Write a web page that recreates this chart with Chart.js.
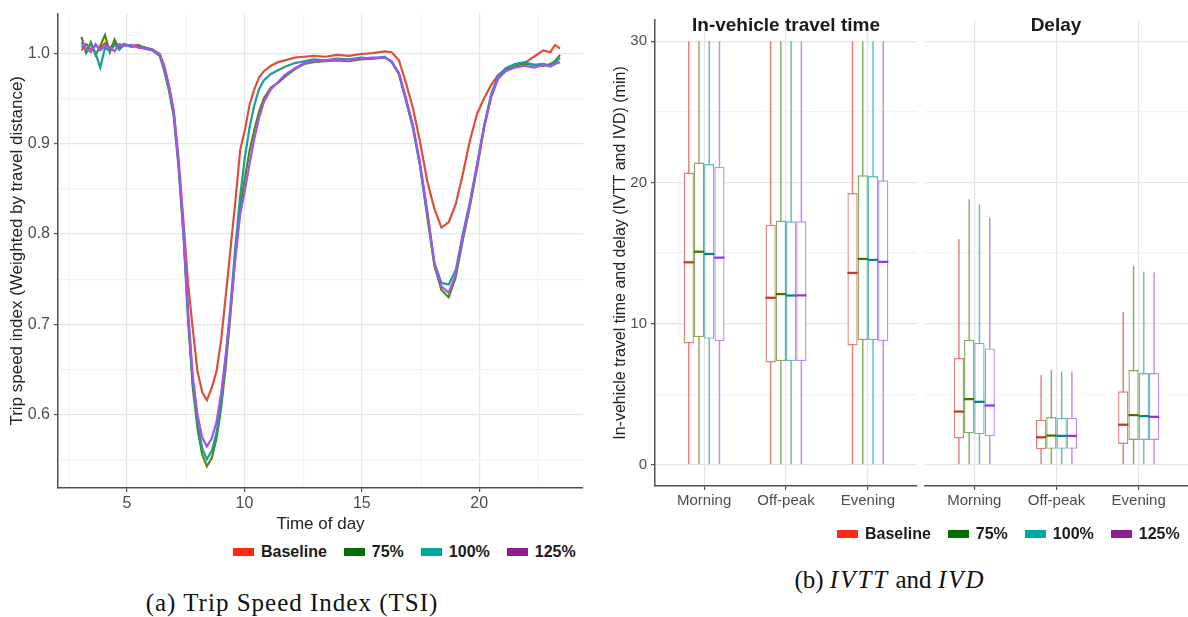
<!DOCTYPE html>
<html>
<head>
<meta charset="utf-8">
<script src="https://cdn.jsdelivr.net/npm/chart.js@4.4.1/dist/chart.umd.min.js"></script>
<style>
  body { margin: 0; background: #fff; }
  #page { position: relative; width: 1188px; height: 617px; overflow: hidden; background: #fff; }
  canvas { position: absolute; top: 0; }
  .legend { position: absolute; display: flex; align-items: center; font: bold 16px 'Liberation Sans', Arial, sans-serif; color: #1a1a1a; line-height: 20px; }
  .legend .item { display: flex; align-items: center; margin-right: 17px; }
  .legend .sw { width: 21px; height: 8px; margin-right: 7px; }
  .strip { position: absolute; transform: translateX(-50%); font: bold 19px 'Liberation Sans', Arial, sans-serif; color: #1a1a1a; line-height: 22px; white-space: nowrap; }
  .caption { position: absolute; transform: translateX(-50%); font: 25px 'Liberation Serif', 'Times New Roman', serif; color: #111; line-height: 28px; white-space: nowrap; }
  .caption i { letter-spacing: 2px; }
</style>
</head>
<body>
<div id="page">
  <canvas id="tsi" width="600" height="540" style="left:0"></canvas>
  <canvas id="ivtt" width="318" height="540" style="left:600px"></canvas>
  <canvas id="delay" width="270" height="540" style="left:918px"></canvas>

  <div class="strip" style="left:786px; top:14px">In-vehicle travel time</div>
  <div class="strip" style="left:1056px; top:14px">Delay</div>

  <div class="legend" id="legendA" style="left:233px; top:542px"></div>
  <div class="legend" id="legendB" style="left:837px; top:524px"></div>

  <div class="caption" style="left:292px; top:589px; letter-spacing:1px">(a) Trip Speed Index (TSI)</div>
  <div class="caption" style="left:890px; top:566px">(b) <i>IVTT</i> and <i>IVD</i></div>
</div>
<script>
// ---- data: trip speed index over the day
const tsiTimes = [3.06, 3.26, 3.46, 3.66, 3.86, 4.06, 4.27, 4.47, 4.67, 4.87,
  5.17, 5.48, 5.78, 6.08,
  6.39, 6.59, 6.79, 6.99, 7.19, 7.40, 7.60, 7.80, 8.00, 8.20, 8.40, 8.61, 8.81, 9.01, 9.21, 9.41, 9.61, 9.82, 10.02, 10.22, 10.42, 10.62, 10.83,
  11.13, 11.43, 11.73,
  12.14, 12.54, 12.94,
  13.45, 13.95, 14.46, 14.96, 15.47, 15.97,
  16.27, 16.58, 16.88, 17.18, 17.48, 17.79, 18.09, 18.39, 18.70, 19.00, 19.30, 19.60, 19.91, 20.21, 20.51, 20.81, 21.12,
  21.52, 21.92, 22.33, 22.73,
  23.03, 23.23, 23.44];

const tsiBaseline = [1.003, 1.010, 1.004, 1.008, 1.006, 1.011, 1.005, 1.012, 1.007, 1.010,
  1.008, 1.009, 1.006, 1.004,
  0.999, 0.986, 0.963, 0.936, 0.885, 0.815, 0.745, 0.695, 0.648, 0.625, 0.616, 0.630, 0.648, 0.683, 0.733, 0.784, 0.835, 0.893, 0.915, 0.943, 0.960, 0.973, 0.980,
  0.986, 0.990, 0.992,
  0.995, 0.996, 0.997,
  0.996, 0.998, 0.997, 0.999, 1.000, 1.002,
  1.001, 0.992, 0.967, 0.939, 0.902, 0.858, 0.828, 0.807, 0.813, 0.833, 0.866, 0.903, 0.933, 0.950, 0.965, 0.976, 0.981,
  0.985, 0.989, 0.996, 1.003,
  1.001, 1.009, 1.005];

const tsi75 = [1.018, 1.000, 1.012, 0.998, 1.008, 1.020, 1.001, 1.015, 1.004, 1.010,
  1.007, 1.008, 1.005, 1.003,
  0.997, 0.980, 0.958, 0.930, 0.875, 0.800, 0.705, 0.630, 0.585, 0.556, 0.543, 0.552, 0.574, 0.608, 0.655, 0.712, 0.775, 0.830, 0.862, 0.892, 0.915, 0.935, 0.950,
  0.962, 0.967, 0.974,
  0.982, 0.988, 0.990,
  0.991, 0.992, 0.991, 0.993, 0.994, 0.995,
  0.991, 0.977, 0.948, 0.917, 0.875, 0.818, 0.765, 0.738, 0.730, 0.752, 0.793, 0.830, 0.873, 0.918, 0.952, 0.972, 0.980,
  0.986, 0.988, 0.987, 0.986,
  0.988, 0.991, 0.998];

const tsi100 = [1.008, 1.004, 1.010, 1.000, 0.984, 1.006, 1.002, 1.009, 1.004, 1.009,
  1.008, 1.007, 1.006, 1.004,
  0.998, 0.982, 0.960, 0.932, 0.878, 0.803, 0.710, 0.636, 0.592, 0.563, 0.551, 0.560, 0.580, 0.615, 0.664, 0.722, 0.785, 0.842, 0.885, 0.918, 0.942, 0.960, 0.970,
  0.977, 0.981, 0.985,
  0.989, 0.991, 0.993,
  0.992, 0.994, 0.993, 0.995, 0.994, 0.996,
  0.990, 0.977, 0.948, 0.918, 0.876, 0.823, 0.768, 0.746, 0.744, 0.760, 0.800, 0.835, 0.878, 0.920, 0.955, 0.975, 0.983,
  0.988, 0.990, 0.987, 0.988,
  0.986, 0.989, 0.995];

const tsi125 = [1.012, 1.005, 1.001, 1.010, 1.003, 1.008, 1.006, 1.002, 1.010, 1.008,
  1.009, 1.006, 1.005, 1.003,
  0.999, 0.984, 0.963, 0.936, 0.880, 0.806, 0.715, 0.643, 0.600, 0.575, 0.565, 0.574, 0.592, 0.624, 0.668, 0.718, 0.772, 0.822, 0.848, 0.878, 0.905, 0.928, 0.946,
  0.960, 0.968, 0.976,
  0.983, 0.989, 0.991,
  0.992, 0.993, 0.992, 0.994, 0.995, 0.995,
  0.991, 0.978, 0.950, 0.920, 0.878, 0.825, 0.768, 0.742, 0.735, 0.755, 0.797, 0.832, 0.876, 0.918, 0.952, 0.973, 0.980,
  0.984, 0.986, 0.984, 0.987,
  0.985, 0.988, 0.990];

const tsiXTicks = [2.5, 5, 7.5, 10, 12.5, 15, 17.5, 20, 22.5];
const tsiYTicks = [0.55, 0.6, 0.65, 0.7, 0.75, 0.8, 0.85, 0.9, 0.95, 1.0];

// ---- data: box plots, rows = scenario, columns = period
const scenarios = ['Baseline', '75%', '100%', '125%'];
const periods = ['Morning', 'Off-peak', 'Evening'];
const periodTicks = [0, 1, 2];
const boxYTicks = [0, 5, 10, 15, 20, 25, 30];

const ivttMin = [[0, 0, 0], [0, 0, 0], [0, 0, 0], [0, 0, 0]];
const ivttQ1 = [[8.59, 7.25, 8.45], [9.04, 7.35, 8.83], [8.92, 7.35, 8.83], [8.76, 7.35, 8.76]];
const ivttMedian = [[14.34, 11.83, 13.59], [15.09, 12.09, 14.58], [14.93, 11.99, 14.51], [14.67, 12.0, 14.37]];
const ivttQ3 = [[20.7, 17.0, 19.25], [21.4, 17.3, 20.5], [21.3, 17.25, 20.45], [21.1, 17.25, 20.15]];
const ivttMax = [[30, 30, 30], [30, 30, 30], [30, 30, 30], [30, 30, 30]];

const delayMin = [[0, 0, 0], [0, 0, 0], [0, 0, 0], [0, 0, 0]];
const delayQ1 = [[1.87, 1.1, 1.48], [2.23, 1.13, 1.76], [2.16, 1.13, 1.76], [2.02, 1.13, 1.76]];
const delayMedian = [[3.77, 1.95, 2.84], [4.65, 2.07, 3.52], [4.46, 2.05, 3.45], [4.2, 2.05, 3.4]];
const delayQ3 = [[7.56, 3.19, 5.21], [8.85, 3.38, 6.71], [8.64, 3.33, 6.5], [8.24, 3.33, 6.5]];
const delayMax = [[16.0, 6.36, 10.8], [18.8, 6.71, 14.1], [18.43, 6.6, 13.69], [17.49, 6.6, 13.62]];

// ---- styles
const lineColors = ['#d9503f', '#4a8b14', '#1c9d99', '#a552ee'];
const legendColors = ['#ff2a12', '#007000', '#00a99e', '#901e90'];
const boxColors = ['#e07f75', '#86ad5e', '#62bcbc', '#c08af2'];
const medianColors = ['#c33a2c', '#437500', '#00868a', '#9236dc'];
const gridMajor = '#e6e6e6';
const gridMinor = '#f3f3f3';
const axisColor = '#505050';
const tickText = '#4d4d4d';

Chart.defaults.font.family = "'Liberation Sans', Arial, sans-serif";
Chart.defaults.color = tickText;

function onStep(v, step) {
  return Math.abs(v / step - Math.round(v / step)) < 1e-6;
}

// legends
function buildLegend(id) {
  const el = document.getElementById(id);
  scenarios.forEach((name, j) => {
    const item = document.createElement('div');
    item.className = 'item';
    item.innerHTML = '<span class="sw" style="background:' + legendColors[j] + '"></span>' + name;
    el.appendChild(item);
  });
}
buildLegend('legendA');
buildLegend('legendB');

// (a) trip speed index
const tsiSeries = [tsiBaseline, tsi75, tsi100, tsi125];
new Chart(document.getElementById('tsi'), {
  type: 'line',
  data: {
    datasets: tsiSeries.map((vals, j) => ({
      label: scenarios[j],
      data: tsiTimes.map((t, i) => ({ x: t, y: vals[i] })),
      borderColor: lineColors[j],
      borderWidth: 2.2,
      pointRadius: 0,
      tension: 0,
      order: 3 - j
    }))
  },
  options: {
    responsive: false,
    animation: false,
    layout: { padding: { top: 4, right: 17 } },
    plugins: { legend: { display: false }, tooltip: { enabled: false } },
    scales: {
      x: {
        type: 'linear', min: 2.06, max: 24.42,
        afterBuildTicks: s => { s.ticks = tsiXTicks.map(v => ({ value: v })); },
        afterFit: s => { s.height = 52; },
        ticks: { callback: v => onStep(v, 5) ? v : '', font: { size: 16 }, padding: 2, maxRotation: 0, autoSkip: false },
        grid: {
          color: c => onStep(c.tick.value, 5) ? gridMajor : gridMinor,
          tickColor: c => onStep(c.tick.value, 5) ? axisColor : 'rgba(0,0,0,0)',
          tickLength: 4, lineWidth: 1.2
        },
        border: { color: axisColor, width: 1.5 },
        title: { display: true, text: 'Time of day', font: { size: 17 }, color: '#222', padding: { top: 0, bottom: 5 } }
      },
      y: {
        min: 0.519, max: 1.0437,
        afterBuildTicks: s => { s.ticks = tsiYTicks.map(v => ({ value: v })); },
        afterFit: s => { s.width = 58; },
        ticks: { callback: v => onStep(v, 0.1) ? v.toFixed(1) : '', font: { size: 16 }, padding: 4, autoSkip: false },
        grid: {
          color: c => onStep(c.tick.value, 0.1) ? gridMajor : gridMinor,
          tickColor: c => onStep(c.tick.value, 0.1) ? axisColor : 'rgba(0,0,0,0)',
          tickLength: 4, lineWidth: 1.2
        },
        border: { color: axisColor, width: 1.5 },
        title: { display: true, text: 'Trip speed index (Weighted by travel distance)', font: { size: 17 }, color: '#222', padding: { top: 7 } }
      }
    }
  }
});

// (b) box plots, one chart per facet
function boxDatasets(lo, q1, med, q3, hi) {
  const sets = [];
  scenarios.forEach((name, j) => sets.push({
    label: name, stack: name, order: 0,
    data: periodTicks.map(i => ({ x: i, y: [med[j][i] - 0.08, med[j][i] + 0.08] })),
    backgroundColor: medianColors[j],
    barPercentage: 1, categoryPercentage: 0.5
  }));
  scenarios.forEach((name, j) => sets.push({
    label: name, stack: name, order: 1,
    data: periodTicks.map(i => ({ x: i, y: [q1[j][i], q3[j][i]] })),
    backgroundColor: '#ffffff', borderColor: boxColors[j], borderWidth: 1.4, borderSkipped: false,
    barPercentage: 1, categoryPercentage: 0.5
  }));
  scenarios.forEach((name, j) => sets.push({
    label: name, stack: name, order: 2,
    data: periodTicks.map(i => ({ x: i, y: [lo[j][i], hi[j][i]] })),
    backgroundColor: boxColors[j],
    barPercentage: 0.14, categoryPercentage: 0.5
  }));
  return sets;
}

function facetChart(id, sets, showAxis) {
  return new Chart(document.getElementById(id), {
    type: 'bar',
    data: { datasets: sets },
    options: {
      responsive: false,
      animation: false,
      layout: { padding: { top: 20, right: showAxis ? 1 : 0 } },
      plugins: { legend: { display: false }, tooltip: { enabled: false } },
      scales: {
        x: {
          type: 'linear', min: -0.6, max: 2.6, stacked: true, offset: false,
          afterBuildTicks: s => { s.ticks = periodTicks.map(v => ({ value: v })); },
          afterFit: s => { s.height = 54; },
          ticks: { callback: v => periods[v], font: { size: 15 }, padding: 2, maxRotation: 0, autoSkip: false },
          grid: { offset: false, color: gridMajor, tickColor: axisColor, tickLength: 4, lineWidth: 1.2 },
          border: { color: axisColor, width: 1.5 }
        },
        y: {
          min: -1.5, max: 31.5, stacked: false,
          afterBuildTicks: s => { s.ticks = boxYTicks.map(v => ({ value: v })); },
          afterFit: s => { s.width = showAxis ? 55 : 7; },
          ticks: { display: showAxis, callback: v => onStep(v, 10) ? v : '', font: { size: 15 }, padding: 4, autoSkip: false },
          grid: {
            color: c => onStep(c.tick.value, 10) ? gridMajor : gridMinor,
            tickColor: c => onStep(c.tick.value, 10) ? axisColor : 'rgba(0,0,0,0)',
            drawTicks: showAxis, tickLength: 4, lineWidth: 1.2
          },
          border: { display: showAxis, color: axisColor, width: 1.5 },
          title: {
            display: showAxis, text: 'In-vehicle travel time and delay (IVTT and IVD) (min)',
            font: { size: 16 }, color: '#222', padding: { top: 11 }
          }
        }
      }
    }
  });
}

facetChart('ivtt', boxDatasets(ivttMin, ivttQ1, ivttMedian, ivttQ3, ivttMax), true);
facetChart('delay', boxDatasets(delayMin, delayQ1, delayMedian, delayQ3, delayMax), false);
</script>
</body>
</html>
